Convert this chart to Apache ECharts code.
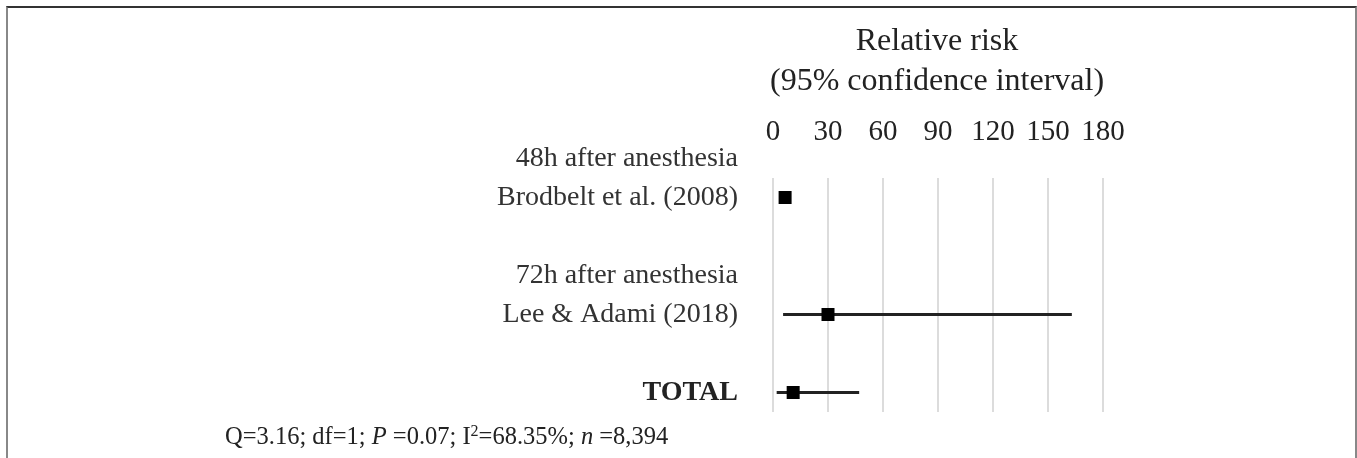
<!DOCTYPE html>
<html>
<head>
<meta charset="utf-8">
<script src="https://cdn.jsdelivr.net/npm/echarts@6/dist/echarts.min.js"></script>
<style>
    html, body { margin: 0; padding: 0; background: #fff; }
    #chart { width: 1357px; height: 458px; }
    #cadre {
        position: absolute; left: 6px; top: 6px; width: 1347px; height: 460px;
        border-top: 2px solid #333; border-left: 2px solid #888; border-right: 2px solid #888;
        pointer-events: none;
    }
</style>
</head>
<body>
<div id="chart"></div>
<div id="cadre"></div>
<script>
// Lignes de l'axe vertical (de haut en bas)
const lignes = ['Brodbelt et al. (2008)', '', '72h after anesthesia', 'Lee & Adami (2018)', '', 'TOTAL'];
const enteteHaut = '48h after anesthesia';
// Risque relatif et intervalle de confiance 95%
const estimation = [6.6, null, null, 30, null, 11];
const borneBasse = [4.8, null, null, 5.5, null, 2];
const borneHaute = [8.4, null, null, 163, null, 47];
const graduations = [0, 30, 60, 90, 120, 150, 180];

const police = '"Liberation Serif", "DejaVu Serif", serif';

let chart;

window.onload = init;

function init() {
    chart = echarts.init(document.getElementById('chart'));

    let points = [];
    let intervalles = [];
    lignes.forEach((nom, i) => {
        if (estimation[i] !== null) {
            points.push([estimation[i], i]);
            intervalles.push([borneBasse[i], borneHaute[i], i]);
        }
    });

    let options = {
        animation: false,
        grid: { left: 773, right: 254, top: 178, bottom: 46 },
        graphic: [
            {
                type: 'text',
                style: {
                    x: 937, y: 22,
                    text: 'Relative risk\n(95% confidence interval)',
                    align: 'center', verticalAlign: 'top',
                    font: '32px ' + police, fill: '#222', lineHeight: 40
                }
            },
            {
                type: 'text',
                style: {
                    x: 225, y: 438,
                    text: '{n|Q=3.16; df=1; }{i|P}{n| =0.07; I}{s|2}{n|=68.35%; }{i|n}{n| =8,394}',
                    verticalAlign: 'middle',
                    rich: {
                        n: { font: '24.5px ' + police, fill: '#222' },
                        i: { font: 'italic 24.5px ' + police, fill: '#222' },
                        s: { font: '16px ' + police, fill: '#222', verticalAlign: 'top', padding: [0, 0, 12, 0] }
                    }
                }
            }
        ],
        xAxis: {
            type: 'value',
            position: 'top',
            min: graduations[0],
            max: graduations[graduations.length - 1],
            interval: 30,
            axisLine: { show: false },
            axisTick: { show: false },
            axisLabel: { fontFamily: police, fontSize: 29, color: '#222', margin: 31 },
            splitLine: { show: true, lineStyle: { color: '#dcdcdc', width: 2 } }
        },
        yAxis: {
            type: 'category',
            data: lignes,
            inverse: true,
            axisLine: { show: false },
            axisTick: { show: false },
            axisLabel: {
                margin: 35,
                formatter: (val, i) => {
                    if (i === 0) return '{t|' + enteteHaut + '}\n{t|' + val + '}\n{t| }';
                    if (val === 'TOTAL') return '{b|' + val + '}';
                    return '{t|' + val + '}';
                },
                rich: {
                    t: { fontFamily: police, fontSize: 28, color: '#333', lineHeight: 39, align: 'right' },
                    b: { fontFamily: police, fontSize: 28, fontWeight: 'bold', color: '#222', align: 'right' }
                }
            }
        },
        series: [
            {
                name: 'IC 95%',
                type: 'custom',
                renderItem: (params, api) => {
                    let debut = api.coord([api.value(0), api.value(2)]);
                    let fin = api.coord([api.value(1), api.value(2)]);
                    return {
                        type: 'line',
                        shape: { x1: debut[0], y1: debut[1], x2: fin[0], y2: fin[1] },
                        style: { stroke: '#222', lineWidth: 3 }
                    };
                },
                encode: { x: [0, 1], y: 2 },
                data: intervalles,
                z: 2
            },
            {
                name: 'Risque relatif',
                type: 'scatter',
                symbol: 'rect',
                symbolSize: 13,
                itemStyle: { color: '#000', opacity: 1 },
                data: points,
                z: 3
            }
        ]
    };

    chart.setOption(options);
}
</script>
</body>
</html>
